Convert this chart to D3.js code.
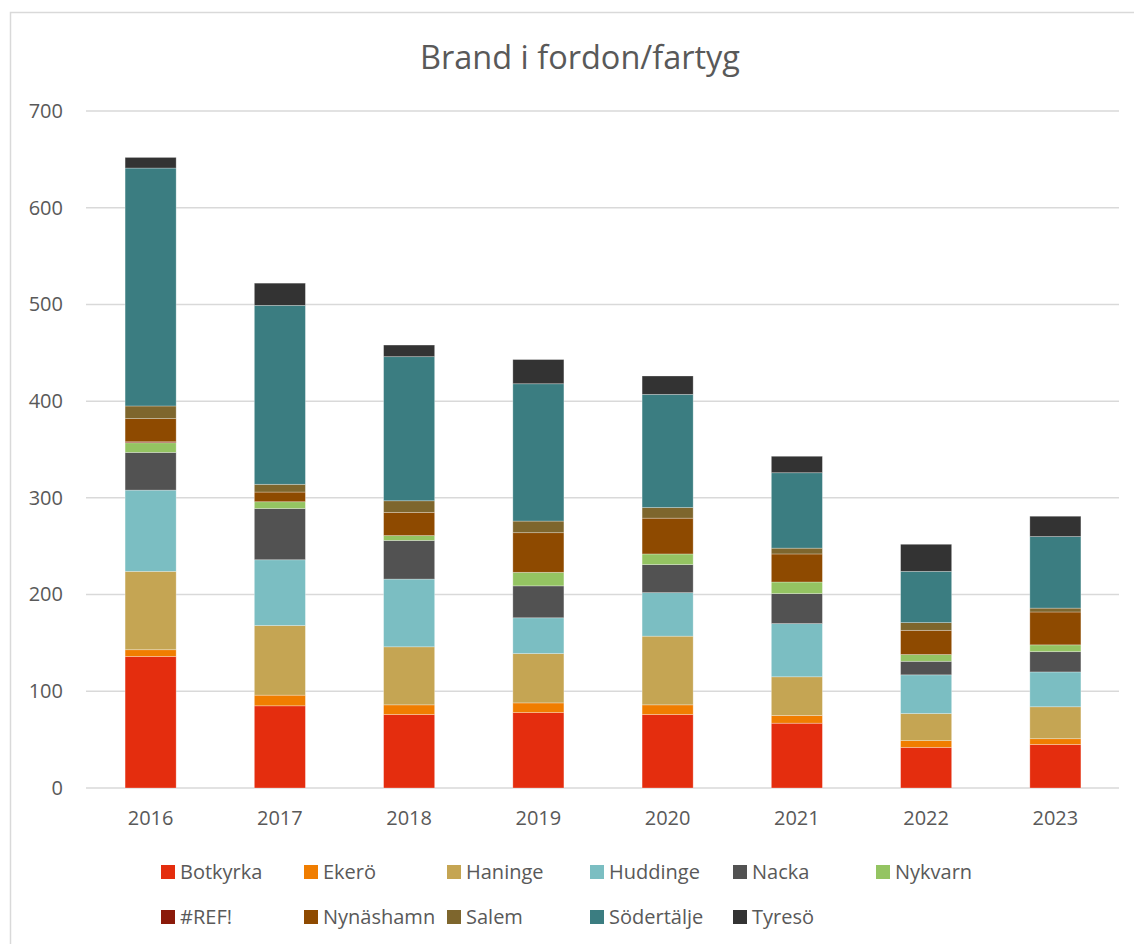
<!DOCTYPE html>
<html>
<head>
<meta charset="utf-8">
<script src="https://cdn.jsdelivr.net/npm/d3@7"></script>
<style>
  html, body { margin: 0; padding: 0; background: #fff; }
  svg { display: block; }
  text { font-family: "Open Sans", "Liberation Sans", sans-serif; fill: #595959; }
</style>
</head>
<body>
<svg id="chart" width="1134" height="944"></svg>
<script>
const years = ["2016", "2017", "2018", "2019", "2020", "2021", "2022", "2023"];
const seriesNames = ["Botkyrka", "Ekerö", "Haninge", "Huddinge", "Nacka", "Nykvarn", "#REF!", "Nynäshamn", "Salem", "Södertälje", "Tyresö"];
const botkyrka   = [136, 85, 76, 78, 76, 67, 42, 45];
const ekero      = [7, 11, 10, 10, 10, 8, 7, 6];
const haninge    = [81, 72, 60, 51, 71, 40, 28, 33];
const huddinge   = [84, 68, 70, 37, 45, 55, 40, 36];
const nacka      = [39, 53, 40, 33, 29, 31, 14, 21];
const nykvarn    = [10, 7, 5, 14, 11, 12, 7, 7];
const ref        = [1, 0, 0, 0, 0, 0, 0, 0];
const nynashamn  = [24, 10, 24, 41, 37, 29, 25, 34];
const salem      = [13, 8, 12, 12, 11, 6, 8, 4];
const sodertalje = [246, 185, 149, 142, 117, 78, 53, 74];
const tyreso     = [11, 23, 12, 25, 19, 17, 28, 21];
const yTicks = [0, 100, 200, 300, 400, 500, 600, 700];
const colors = ["#E42D0E", "#F07D00", "#C5A553", "#7BBEC2", "#525252", "#94C462", "#8B1A0A", "#8E4A00", "#7E662D", "#3B7D81", "#333333"];

const seriesValues = [botkyrka, ekero, haninge, huddinge, nacka, nykvarn, ref, nynashamn, salem, sodertalje, tyreso];
const table = years.map((y, i) => {
  const row = { year: y };
  seriesNames.forEach((n, k) => { row[n] = seriesValues[k][i]; });
  return row;
});

const svg = d3.select("#chart");

// chart frame
svg.append("rect")
  .attr("x", 10.5).attr("y", 12.5)
  .attr("width", 1140).attr("height", 960)
  .attr("fill", "none").attr("stroke", "#d9d9d9").attr("stroke-width", 1.5);

const x = d3.scaleBand().domain(years).range([86, 1120]).paddingInner(0.605).paddingOuter(0.3025);
const y = d3.scaleLinear().domain([0, 700]).range([788, 111]);

// gridlines
svg.append("g").selectAll("line").data(yTicks).join("line")
  .attr("x1", 86).attr("x2", 1119)
  .attr("y1", d => y(d)).attr("y2", d => y(d))
  .attr("stroke", "#d9d9d9").attr("stroke-width", 1.5);

// y axis labels
const yAxis = d3.axisLeft(y).tickValues(yTicks).tickSize(0).tickPadding(0);
const gy = svg.append("g").attr("transform", "translate(63,0)").call(yAxis);
gy.select(".domain").remove();
gy.selectAll("text").attr("font-size", 20).attr("fill", "#595959")
  .style("font-family", '"Open Sans", sans-serif');

// stacked bars
const stack = d3.stack().keys(seriesNames);
const stacked = stack(table);
svg.append("g").selectAll("g").data(stacked).join("g")
  .attr("fill", (d, i) => colors[i])
  .selectAll("rect").data(d => d).join("rect")
  .attr("x", d => x(d.data.year))
  .attr("width", x.bandwidth())
  .attr("y", d => y(d[1]))
  .attr("height", d => Math.max(0, y(d[0]) - y(d[1])))
  .attr("stroke", "#ffffff").attr("stroke-opacity", 0.35).attr("stroke-width", 0.8);

// x axis labels
const xAxis = d3.axisBottom(x).tickSize(0).tickPadding(0);
const gx = svg.append("g").attr("transform", "translate(0,813)").call(xAxis);
gx.select(".domain").remove();
gx.selectAll("text").attr("font-size", 20).attr("fill", "#595959").attr("dy", "0.6em")
  .style("font-family", '"Open Sans", sans-serif');

// title
svg.append("text").attr("x", 580).attr("y", 69).attr("text-anchor", "middle")
  .attr("font-size", 32).attr("textLength", 320).attr("lengthAdjust", "spacingAndGlyphs")
  .text("Brand i fordon/fartyg");

// legend
const legend = svg.append("g");
seriesNames.forEach((n, i) => {
  const row = i < 6 ? 0 : 1;
  const col = i < 6 ? i : i - 6;
  const lx = 161 + col * 143;
  const ly = row === 0 ? 872 : 917;
  const g = legend.append("g").attr("transform", `translate(${lx},${ly})`);
  g.append("rect").attr("x", 0).attr("y", -7).attr("width", 14).attr("height", 14).attr("fill", colors[i]);
  g.append("text").attr("x", 19).attr("y", 0).attr("dy", "0.35em").attr("font-size", 20).text(n);
});
</script>
</body>
</html>
